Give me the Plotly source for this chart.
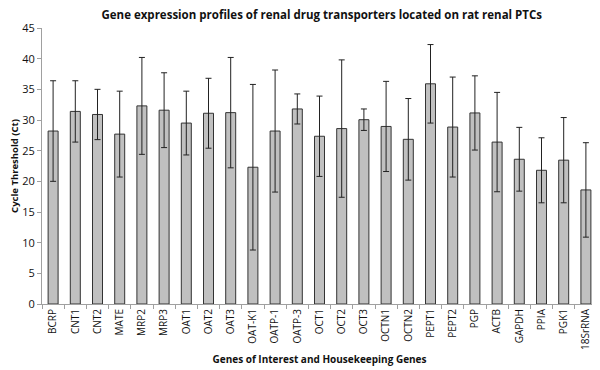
import plotly.graph_objects as go

genes = ["BCRP", "CNT1", "CNT2", "MATE", "MRP2", "MRP3", "OAT1", "OAT2", "OAT3",
         "OAT-K1", "OATP-1", "OATP-3", "OCT1", "OCT2", "OCT3", "OCTN1", "OCTN2",
         "PEPT1", "PEPT2", "PGP", "ACTB", "GAPDH", "PPIA", "PGK1", "18SrRNA"]
ct_mean = [28.2, 31.4, 30.9, 27.7, 32.3, 31.6, 29.5, 31.1, 31.2,
           22.3, 28.2, 31.8, 27.35, 28.6, 30.05, 28.95, 26.85,
           35.9, 28.85, 31.15, 26.4, 23.6, 21.8, 23.45, 18.6]
ct_sd = [8.2, 5.0, 4.1, 7.0, 7.9, 6.1, 5.2, 5.7, 9.0,
         13.5, 9.95, 2.45, 6.55, 11.2, 1.75, 7.35, 6.65,
         6.4, 8.15, 6.05, 8.1, 5.2, 5.3, 6.95, 7.7]

fig = go.Figure(go.Bar(
    x=genes, y=ct_mean,
    marker=dict(color="#c0c0c0", line=dict(color="#333333", width=1)),
    error_y=dict(type="data", array=ct_sd, visible=True, color="#222222",
                 thickness=1, width=3),
    width=0.45,
))

fig.update_layout(
    width=592, height=362,
    margin=dict(l=34, r=3, t=20, b=66),
    paper_bgcolor="white", plot_bgcolor="white",
    font=dict(family="Open Sans", color="#111111"),
    showlegend=False,
    title=dict(text="<b>Gene expression profiles of renal drug transporters located on rat renal PTCs</b>",
               x=0.53, xanchor="center", y=0.982, yanchor="middle",
               font=dict(size=11.5, family="Open Sans", color="#111111")),
)
fig.update_yaxes(
    range=[0, 45], dtick=5, showgrid=False, zeroline=False,
    showline=True, linecolor="#a0a0a0", linewidth=1,
    ticks="outside", ticklen=4, tickcolor="#a0a0a0",
    tickfont=dict(size=11, family="Open Sans", color="#111111"),
    title=dict(text="<b>Cycle Threshold (Ct)</b>", standoff=6,
               font=dict(size=9.5, family="Open Sans", color="#111111")),
)
fig.update_xaxes(
    showgrid=False, showline=True, linecolor="#a0a0a0", linewidth=1,
    ticks="outside", ticklen=4, tickcolor="#a0a0a0", tickson="boundaries",
    tickangle=-90,
    tickfont=dict(size=10, family="Open Sans", color="#111111"),
    title=dict(text="<b>Genes of Interest and Housekeeping Genes</b>", standoff=6,
               font=dict(size=10, family="Open Sans", color="#111111")),
)

fig.write_html("out.html")
